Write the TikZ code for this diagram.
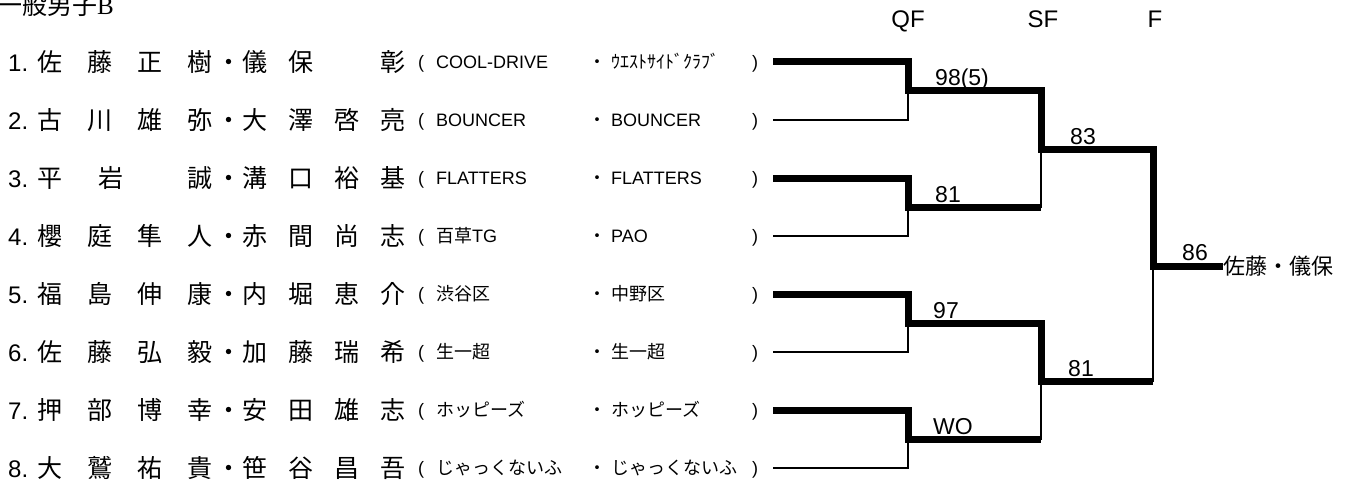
\documentclass[tikz,border=0pt]{standalone}
\usepackage{fontspec}
\setmainfont{Liberation Sans}
\newfontfamily\jp{Noto Sans CJK JP}
\newfontfamily\mincho{Liberation Serif}
\newcommand{\duo}[8]{{\jp\fontsize{25}{30}\selectfont
  \makebox[50pt]{#1}\makebox[50pt]{#2}\makebox[50pt]{#3}\makebox[50pt]{#4}%
  \makebox[7pt]{・}%
  \makebox[46pt]{#5}\makebox[46pt]{#6}\makebox[46pt]{#7}\makebox[46pt]{#8}}}
\newcommand{\clubs}[2]{\makebox[18pt][l]{(}\makebox[152pt][l]{#1}%
  \makebox[23pt][l]{\jp ・}\makebox[141pt][l]{#2})}
\tikzset{
  titletext/.style={anchor=base west, inner sep=0pt},
  stage/.style={anchor=base, inner sep=0pt, font=\fontsize{24}{28}\selectfont},
  player/.style={anchor=base west, inner sep=0pt, font=\fontsize{24}{28}\selectfont},
  club/.style={anchor=base west, inner sep=0pt, font=\fontsize{18}{22}\selectfont},
  score/.style={anchor=base west, inner sep=0pt, font=\fontsize{23}{26}\selectfont},
  champ/.style={anchor=west, inner sep=0pt, font=\jp\fontsize{22}{26}\selectfont},
  win/.style={line width=7pt},
  lose/.style={line width=2pt}
}
\begin{document}
\begin{tikzpicture}[x=1pt, y=-1pt]
\useasboundingbox (0,0) rectangle (1348,484);

\node[titletext] (title) at (-3,15) {{\jp\fontsize{25}{30}\selectfont 一般男子}{\mincho\fontsize{25}{30}\selectfont B}};
\node[stage] (qf) at (908,28) {QF};
\node[stage] (sf) at (1043,28) {SF};
\node[stage] (ff) at (1155,28) {F};

% players
\foreach \i/\na/\nb/\nc/\nd/\ne/\nf/\ng/\nh/\ca/\cb in {
  1/佐/藤/正/樹/儀/保/{}/彰/COOL-DRIVE/{\jp ｳｴｽﾄｻｲﾄﾞｸﾗﾌﾞ},
  2/古/川/雄/弥/大/澤/啓/亮/BOUNCER/BOUNCER,
  3/平/{\hspace{22pt}岩}/{}/誠/溝/口/裕/基/FLATTERS/FLATTERS,
  4/櫻/庭/隼/人/赤/間/尚/志/{\jp 百草}TG/PAO,
  5/福/島/伸/康/内/堀/恵/介/{\jp 渋谷区}/{\jp 中野区},
  6/佐/藤/弘/毅/加/藤/瑞/希/{\jp 生一超}/{\jp 生一超},
  7/押/部/博/幸/安/田/雄/志/{\jp ホッピーズ}/{\jp ホッピーズ},
  8/大/鷲/祐/貴/笹/谷/昌/吾/{\jp じゃっくないふ}/{\jp じゃっくないふ}}
{
  \node[player] (n\i) at (8, {4+58*\i+9.5}) {\makebox[17pt][l]{\i.}\duo{\na}{\nb}{\nc}{\nd}{\ne}{\nf}{\ng}{\nh}};
  \node[club] (c\i) at (418, {4+58*\i+6.5}) {\clubs{\ca}{\cb}};
  \coordinate (p\i) at (773, {4+58*\i});
}

% junctions
\coordinate (q1) at (908,91);
\coordinate (q2) at (908,207);
\coordinate (q3) at (908,323);
\coordinate (q4) at (908,439);
\coordinate (s1) at (1041,149);
\coordinate (s2) at (1041,381);
\coordinate (fj) at (1153,266);
\node[champ] (champ) at (1223,266) {佐藤・儀保};

\draw[lose] (p2) -| (q1);
\draw[lose] (p4) -| (q2);
\draw[lose] (p6) -| (q3);
\draw[lose] (p8) -| (q4);
\draw[lose] (q2) -| (s1);
\draw[lose] (q4) -| (s2);
\draw[lose] (s2) -| (fj);
\draw[win] (p1) -| (q1) -| (s1) -| (fj) -- (champ);
\draw[win] (p3) -| (q2) -- (q2 -| s1);
\draw[win] (p5) -| (q3) -| (s2) -- (s2 -| fj);
\draw[win] (p7) -| (q4) -- (q4 -| s2);

% scores
\node[score] (r1) at ([shift={(27,-5)}]q1) {98(5)};
\node[score] (r2) at ([shift={(27,-5)}]q2) {81};
\node[score] (r3) at ([shift={(25,-5)}]q3) {97};
\node[score] (r4) at ([shift={(25,-5)}]q4) {WO};
\node[score] (r5) at ([shift={(29,-5)}]s1) {83};
\node[score] (r6) at ([shift={(27,-5)}]s2) {81};
\node[score] (r7) at ([shift={(29,-6)}]fj) {86};
\end{tikzpicture}
\end{document}
